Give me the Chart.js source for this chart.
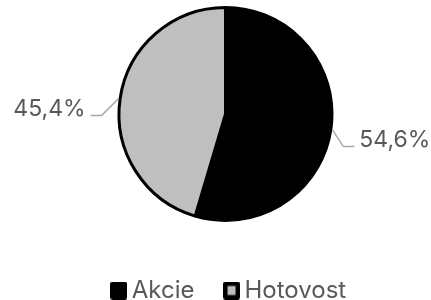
<!DOCTYPE html>
<html>
<head>
<meta charset="utf-8">
<script src="https://cdn.jsdelivr.net/npm/chart.js@4.4.0/dist/chart.umd.min.js"></script>
<style>
  html, body { margin: 0; padding: 0; background: #fff; }
</style>
</head>
<body>
<canvas id="pie-chart" width="431" height="300"></canvas>
<script>
// Data
const categories = ['Akcie', 'Hotovost'];
const shares = [54.6, 45.4];
const sliceColors = ['#000000', '#bfbfbf'];

Chart.defaults.font.family = 'Inter';
Chart.defaults.color = '#595959';

// Square legend icons: black frame, slice colour inside
function makeIcon(fill) {
    const c = document.createElement('canvas');
    c.width = 17;
    c.height = 18;
    const g = c.getContext('2d');
    g.fillStyle = '#000';
    g.beginPath();
    g.roundRect(0, 0, 17, 18, 2.5);
    g.fill();
    g.fillStyle = fill;
    g.fillRect(4.5, 4.5, 8, 9);
    return c;
}
const legendIcons = sliceColors.map(makeIcon);

function formatShare(value, total) {
    return (value / total * 100).toFixed(1).replace('.', ',') + '%';
}

// Outside labels with bent leader lines
const outsideLabels = {
    id: 'outsideLabels',
    afterDatasetsDraw(chart) {
        const ctx = chart.ctx;
        const meta = chart.getDatasetMeta(0);
        const values = chart.data.datasets[0].data;
        const total = values.reduce((a, b) => a + b, 0);
        ctx.save();
        ctx.font = '23px Inter';
        ctx.textBaseline = 'alphabetic';
        meta.data.forEach((arc, i) => {
            const p = arc.getProps(['x', 'y', 'startAngle', 'endAngle', 'outerRadius'], true);
            const mid = (p.startAngle + p.endAngle) / 2;
            const r = p.outerRadius + 1.5;
            const side = Math.cos(mid) >= 0 ? 1 : -1;
            const x0 = p.x + Math.cos(mid) * r;
            const y0 = p.y + Math.sin(mid) * r;
            const x1 = x0 + side * (side > 0 ? 11 : 17);
            const y1 = y0 + 17;
            const x2 = x1 + side * 11;

            ctx.strokeStyle = '#a6a6a6';
            ctx.lineWidth = 1.5;
            ctx.beginPath();
            ctx.moveTo(x0, y0);
            ctx.lineTo(x1, y1);
            ctx.lineTo(x2, y1);
            ctx.stroke();

            ctx.fillStyle = '#595959';
            ctx.textAlign = side > 0 ? 'left' : 'right';
            ctx.fillText(formatShare(values[i], total), x2 + side * 5, y1 + 0.5);
        });
        ctx.restore();
    }
};

const pieCtx = document.getElementById('pie-chart').getContext('2d');
const pieChart = new Chart(pieCtx, {
    type: 'pie',
    data: {
        labels: categories,
        datasets: [{
            data: shares,
            backgroundColor: sliceColors,
            borderColor: '#000000',
            borderWidth: 3,
            hoverBorderWidth: 3,
            hoverOffset: 0
        }]
    },
    options: {
        responsive: false,
        animation: false,
        events: [],
        layout: {
            padding: { top: 6, left: 33, right: 0, bottom: -12.5 }
        },
        plugins: {
            legend: {
                position: 'bottom',
                title: {
                    display: true,
                    text: ' ',
                    font: { size: 12, lineHeight: 1 },
                    padding: { top: 8.5, bottom: 0 }
                },
                labels: {
                    usePointStyle: true,
                    boxWidth: 2,
                    boxHeight: 14,
                    padding: 36,
                    color: '#595959',
                    font: { size: 24 },
                    generateLabels(chart) {
                        const items = Chart.overrides.doughnut.plugins.legend.labels.generateLabels(chart);
                        items.forEach((item, i) => { item.pointStyle = legendIcons[i]; });
                        return items;
                    }
                }
            },
            // empty right-hand box keeps the pie left of the legend centre
            subtitle: {
                display: true,
                position: 'right',
                fullSize: false,
                text: ' ',
                font: { size: 13, lineHeight: 1 },
                padding: 0
            },
            tooltip: { enabled: false }
        }
    },
    plugins: [outsideLabels]
});
</script>
</body>
</html>
